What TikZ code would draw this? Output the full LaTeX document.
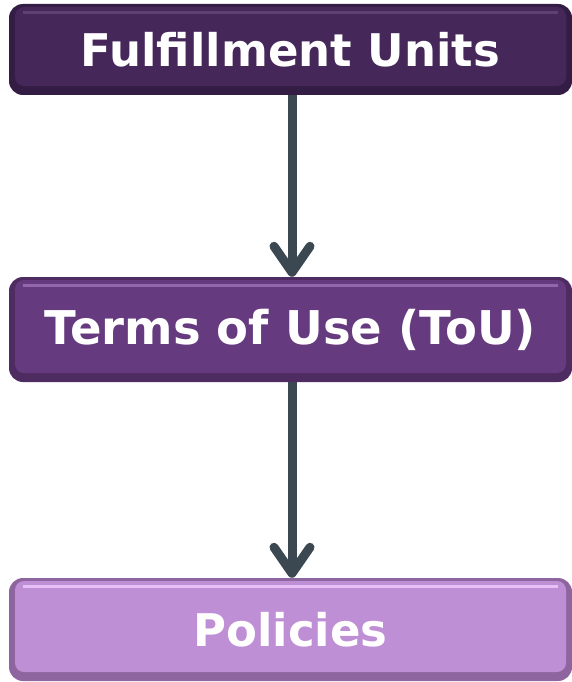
\documentclass[tikz,border=0pt]{standalone}
\usepackage{fontspec}
\setmainfont{DejaVu Sans}
\usetikzlibrary{arrows.meta}

\definecolor{darkplum}{HTML}{45275A}
\definecolor{darkplumrim}{HTML}{341D45}
\definecolor{darkplumlight}{HTML}{5E4274}
\definecolor{plum}{HTML}{663A7F}
\definecolor{plumrim}{HTML}{4E2C61}
\definecolor{plumlight}{HTML}{9368AB}
\definecolor{lilac}{HTML}{BF8FD6}
\definecolor{lilacrim}{HTML}{8E659F}
\definecolor{lilaclight}{HTML}{E8C0F8}
\definecolor{arrowgrey}{HTML}{3B4851}

\begin{document}
\begin{tikzpicture}
        [x=1pt,y=-1pt,
         every node/.style={rectangle,inner sep=0pt,text=white,
                            font=\bfseries\fontsize{45}{54}\selectfont},
         box/.style n args={3}{fill=#1,rounded corners=14pt,minimum width=563pt,
            path picture={
              \fill[#2,rounded corners=9pt]
                ([xshift=6pt,yshift=-3pt]path picture bounding box.north west) rectangle
                ([xshift=-6pt,yshift=9pt]path picture bounding box.south east);
              \fill[#3,sharp corners]
                ([xshift=14pt,yshift=-7pt]path picture bounding box.north west) rectangle
                ([xshift=-14pt,yshift=-10pt]path picture bounding box.north east);}},
         flow/.style={draw=arrowgrey,line width=9pt,
                      -{Straight Barb[length=26pt,width=36pt,round]}}]
        \useasboundingbox (0,0) rectangle (572,682);
        \node[box={darkplumrim}{darkplum}{darkplumlight},minimum height=91pt]
            (Fulfillment) at (290.5,49.5) {Fulfillment Units};
        \node[box={plumrim}{plum}{plumlight},minimum height=105pt,
              font=\bfseries\fontsize{46.5}{54}\selectfont]
            (Terms) at (290.5,329.5) {Terms of Use (ToU)};
        \node[box={lilacrim}{lilac}{lilaclight},minimum height=103pt]
            (Policies) at (290.5,629.5) {Policies};
        \foreach \from/\to in {Fulfillment/Terms,Terms/Policies}
            \draw[flow] ([xshift=1.5pt]\from.south) -- ([xshift=1.5pt]\to.north);
    \end{tikzpicture}
\end{document}
